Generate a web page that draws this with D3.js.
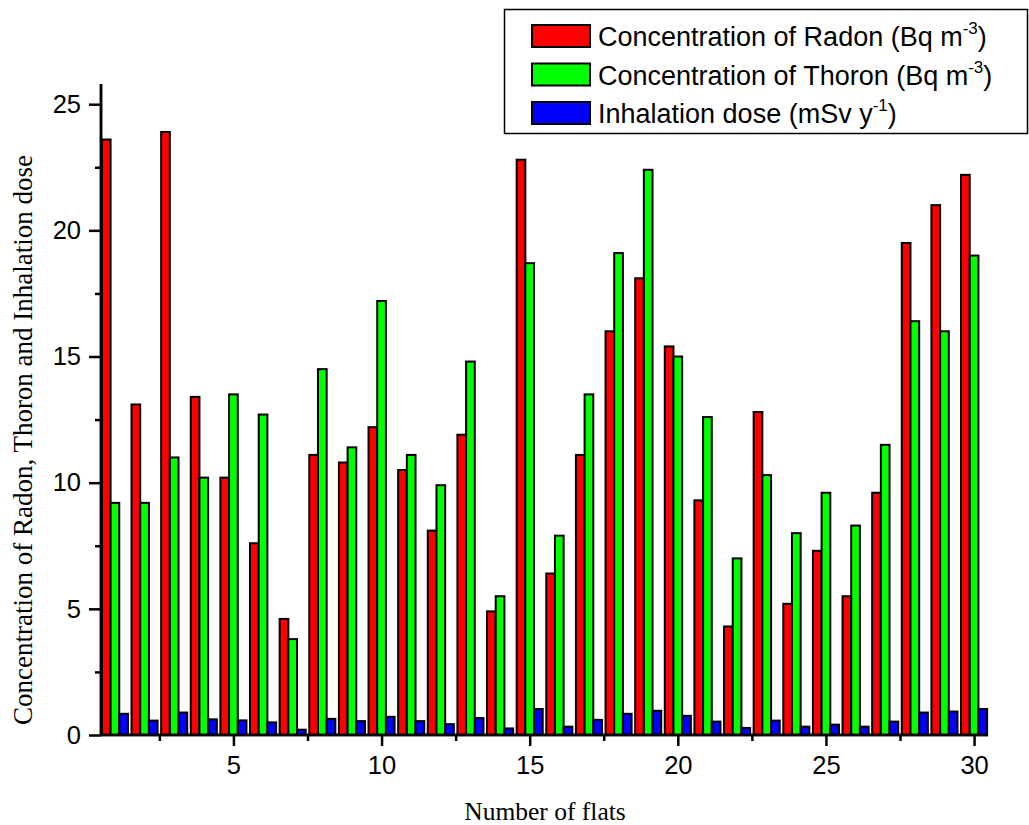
<html>
  <head>
    <meta charset="utf-8">
    <title>Radon Thoron Inhalation</title>
    <style>
      body{margin:0;background:#fff;}
      text{fill:#000;}
    </style>
    <script src="https://d3js.org/d3.v7.min.js"></script>
  </head>
  <body>
    <script>
      var flats = d3.range(1, 31);
      var radon = [23.6,13.1,23.9,13.4,10.2,7.6,4.6,11.1,10.8,12.2,10.5,8.1,11.9,4.9,22.8,6.4,11.1,16.0,18.1,15.4,9.3,4.3,12.8,5.2,7.3,5.5,9.6,19.5,21.0,22.2];
      var thoron = [9.2,9.2,11.0,10.2,13.5,12.7,3.8,14.5,11.4,17.2,11.1,9.9,14.8,5.5,18.7,7.9,13.5,19.1,22.4,15.0,12.6,7.0,10.3,8.0,9.6,8.3,11.5,16.4,16.0,19.0];
      var dose = [0.84,0.57,0.89,0.62,0.58,0.50,0.21,0.64,0.55,0.72,0.55,0.43,0.67,0.26,1.03,0.33,0.60,0.84,0.96,0.76,0.53,0.28,0.57,0.33,0.41,0.33,0.53,0.89,0.93,1.03];
      var xTicks = [5,10,15,20,25,30];
      var yTicks = [0,5,10,15,20,25];

      var series = [
        {name:"Concentration of Radon (Bq m", sup:"-3", tail:")", values:radon, color:"#ff0000"},
        {name:"Concentration of Thoron (Bq m", sup:"-3", tail:")", values:thoron, color:"#00ff00"},
        {name:"Inhalation dose (mSv y", sup:"-1", tail:")", values:dose, color:"#0000ff"}
      ];

      var W = 1029, H = 825;
      var mLeft = 101, mRight = 988, mTop = 84, mBottom = 735;

      var svg = d3.select("body").append("svg")
                  .attr("width",W)
                  .attr("height",H);

      var x = d3.scaleLinear().domain([0.53,30.47]).range([mLeft,mRight]);
      var y = d3.scaleLinear().domain([0,25.8]).range([mBottom,mTop]);

      var groupW = x(1.88) - x(1);
      var barW = groupW/3;

      var g = svg.append("g");
      series.forEach((s,si)=>{
        g.selectAll(".bar"+si)
          .data(s.values)
          .enter()
          .append("rect")
          .attr("x",(d,i)=>x(flats[i]) - groupW/2 + si*barW)
          .attr("y",d=>y(d))
          .attr("width",barW)
          .attr("height",d=>y(0)-y(d))
          .attr("fill",s.color)
          .attr("stroke","#000")
          .attr("stroke-width",2);
      });

      // axes
      var yAxis = d3.axisLeft(y).tickValues(yTicks).tickSize(12).tickPadding(8).tickFormat(d3.format("d"));
      var yMinor = d3.axisLeft(y).tickValues(d3.range(2.5,25,5)).tickSize(6).tickFormat("");
      var xAxis = d3.axisBottom(x).tickValues(xTicks).tickSize(11).tickPadding(10).tickFormat(d3.format("d"));
      var xMinor = d3.axisBottom(x).tickValues(d3.range(2.5,30,5)).tickSize(6).tickFormat("");

      [yAxis,yMinor].forEach(a=>{
        svg.append("g").attr("transform","translate("+mLeft+",0)").call(a)
          .call(s=>s.select(".domain").attr("d","M0,"+mTop+"V"+mBottom));
      });
      [xAxis,xMinor].forEach(a=>{
        svg.append("g").attr("transform","translate(0,"+mBottom+")").call(a)
          .call(s=>s.select(".domain").attr("d","M"+mLeft+",0H"+mRight));
      });
      svg.selectAll(".domain").attr("stroke","#000").attr("stroke-width",2.5);
      svg.selectAll(".tick line").attr("stroke","#000").attr("stroke-width",2.5);
      svg.selectAll(".tick text")
        .style("font","25.5px 'Liberation Sans', Arial, sans-serif");

      // axis titles
      svg.append("text")
        .text("Number of flats")
        .attr("x",545)
        .attr("y",820)
        .attr("text-anchor","middle")
        .style("font","25.5px 'Liberation Serif', 'Times New Roman', serif");

      svg.append("text")
        .text("Concentration of Radon, Thoron and Inhalation dose")
        .attr("transform","translate(32,440) rotate(-90)")
        .attr("text-anchor","middle")
        .style("font","27px 'Liberation Serif', 'Times New Roman', serif");

      // legend
      var legend = svg.append("g");
      legend.append("rect")
        .attr("x",504.5).attr("y",9.5)
        .attr("width",W-504.5-1.5).attr("height",124)
        .attr("fill","#fff").attr("stroke","#000").attr("stroke-width",1.5);

      var rows = legend.selectAll(".row")
        .data(series)
        .enter()
        .append("g")
        .attr("transform",(d,i)=>"translate(532,"+(36+i*38.5)+")");
      rows.append("rect")
        .attr("x",0).attr("y",-11)
        .attr("width",58).attr("height",22)
        .attr("fill",d=>d.color)
        .attr("stroke","#000").attr("stroke-width",2);
      var t = rows.append("text")
        .attr("x",66)
        .attr("y",10)
        .style("font","27px 'Liberation Sans', Arial, sans-serif");
      t.append("tspan").text(d=>d.name);
      t.append("tspan").text(d=>d.sup).attr("dy",-12).style("font-size","17px");
      t.append("tspan").text(d=>d.tail).attr("dy",12);
    </script>
  </body>
</html>
